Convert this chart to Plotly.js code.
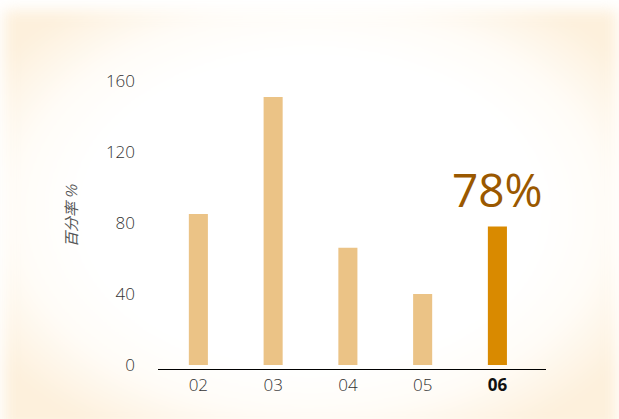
<!DOCTYPE html>
<html>
<head>
<meta charset="utf-8">
<script src="https://cdn.plot.ly/plotly-3.0.1.min.js"></script>
<style>
  html, body { margin:0; padding:0; width:619px; height:419px; overflow:hidden; background:#fff; }
  #bg { position:absolute; left:4px; top:10px; right:2px; bottom:-10px;
        background: radial-gradient(ellipse 62% 62% at 50% 48%, #ffffff 60%, #fffcf7 78%, #fdf0dc 100%);
        filter: blur(7px); }
  #chart { position:absolute; left:0; top:0; width:619px; height:419px; }
</style>
</head>
<body>
<div id="bg"></div>
<div id="chart"></div>
<script>
const categories = ['02', '03', '04', '05', '06'];
const values = [85, 151, 66, 40, 78];
const yTicks = [0, 40, 80, 120, 160];
const highlightLabel = '78%';
const yTitle = '百分率 %';

const lightColor = '#EBC386';
const darkColor = '#D98A00';
const barColors = categories.map((c, i) => i === categories.length - 1 ? darkColor : lightColor);
const tickText = categories.map((c, i) => i === categories.length - 1
  ? '<span style="font-weight:bold;color:#111">' + c + '</span>' : c);

const trace = {
  type: 'bar',
  x: categories,
  y: values,
  marker: { color: barColors, line: { width: 0 } },
  width: 0.255,
  hoverinfo: 'skip'
};

const layout = {
  width: 619, height: 419,
  paper_bgcolor: 'rgba(0,0,0,0)',
  plot_bgcolor: 'rgba(0,0,0,0)',
  margin: { l: 158, r: 73, t: 60, b: 50 },
  showlegend: false,
  font: { family: '"Open Sans", sans-serif', color: '#333' },
  xaxis: {
    type: 'category',
    range: [-0.54, 4.65],
    tickvals: categories,
    ticktext: tickText,
    showgrid: false, zeroline: false,
    showline: true, linecolor: '#000', linewidth: 1.3,
    ticks: '',
    tickfont: { family: '"Open Sans", sans-serif', size: 17, color: '#333', weight: 300 }
  },
  yaxis: {
    range: [-2.25, 171.8],
    tickvals: yTicks,
    showgrid: false, zeroline: false, showline: false,
    ticks: '',
    ticklabelstandoff: 22,
    tickfont: { family: '"Open Sans", sans-serif', size: 17, color: '#333', weight: 300 }
  },
  annotations: [
    {
      text: yTitle, textangle: -90,
      xref: 'paper', yref: 'paper',
      x: -0.227, y: 0.498, xanchor: 'center', yanchor: 'middle',
      showarrow: false,
      font: { family: '"Noto Sans CJK SC", "Open Sans", sans-serif', size: 15, color: '#555', style: 'italic' }
    },
    {
      text: highlightLabel,
      xref: 'paper', yref: 'paper',
      x: 0.8755, y: 0.5825,
      xanchor: 'center', yanchor: 'middle',
      showarrow: false,
      font: { family: 'Open Sans, sans-serif', size: 46, color: '#9A5800' }
    }
  ]
};

Plotly.newPlot('chart', [trace], layout, { displayModeBar: false, staticPlot: true });
</script>
</body>
</html>
